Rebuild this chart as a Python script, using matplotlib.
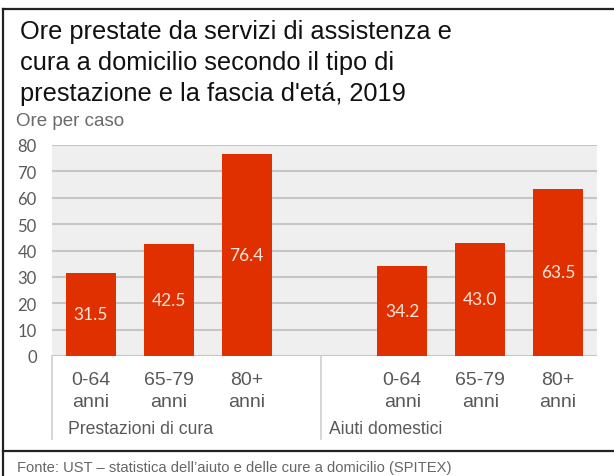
import matplotlib.pyplot as plt
from matplotlib.lines import Line2D

# data
groups = ["Prestazioni di cura", "Aiuti domestici"]
ages = ["0-64\nanni", "65-79\nanni", "80+\nanni"]
cura = [31.5, 42.5, 76.4]
domestici = [34.2, 43.0, 63.5]
yticks = [0, 10, 20, 30, 40, 50, 60, 70, 80]

W, H = 614, 477
fig = plt.figure(figsize=(W / 100, H / 100), dpi=100)
plt.rcParams['font.family'] = ['Liberation Sans', 'DejaVu Sans']

def fx(px):
    return px / W

def fy(py):
    return 1 - py / H

# plot area in pixels: x 52..597, y 146..357
ax = fig.add_axes([fx(52), fy(357), fx(597) - fx(52), fy(146) - fy(357)])
ax.set_facecolor("#efefef")

red = "#e03000"
xpos = [0, 1, 2, 4, 5, 6]
vals = cura + domestici
labels = ages + ages
bars = ax.bar(xpos, vals, width=0.64, color=red, zorder=3)
for x, v in zip(xpos, vals):
    ax.text(x, v / 2, f"{v:.1f}", ha="center", va="center", color="#fde6da",
            fontsize=12.5, family=["Lato", "DejaVu Sans"], zorder=4)

ax.set_xlim(-0.5, 6.5)
ax.set_ylim(0, 80)
ax.set_yticks(yticks)
ax.set_yticklabels([str(t) for t in yticks], color="#595959", fontsize=12,
                   family=["Lato", "DejaVu Sans"])
ax.tick_params(axis="y", length=0, pad=11)
ax.set_xticks([])
ax.grid(axis="y", color="#c6c6c6", linewidth=1.5, zorder=1)
for s in ax.spines.values():
    s.set_visible(False)

# category labels below the axis
for x, lab in zip(xpos, labels):
    ax.text(x, -5.6, lab, ha="center", va="top", fontsize=14, color="#595959",
            linespacing=1.38, clip_on=False)
fig.text(fx(68), fy(430), groups[0], ha="left", va="center", fontsize=12.7, color="#595959")
fig.text(fx(329), fy(430), groups[1], ha="left", va="center", fontsize=12.7, color="#595959")

# separators of the category axis
for px in (52, 321):
    fig.add_artist(Line2D([fx(px), fx(px)], [fy(357), fy(440)], color="#d0d0d0", linewidth=1.2))

# title and axis caption
fig.text(fx(20), fy(20), "Ore prestate da servizi di assistenza e\ncura a domicilio secondo il tipo di\nprestazione e la fascia d'etá, 2019",
         ha="left", va="top", fontsize=18.3, color="#111111", linespacing=1.36)
fig.text(fx(16), fy(122), "Ore per caso", ha="left", va="center", fontsize=13.5, color="#6a6a6a")

# footer
fig.text(fx(17), fy(468), "Fonte: UST – statistica dell’aiuto e delle cure a domicilio (SPITEX)",
         ha="left", va="center", fontsize=10.6, color="#666666")

# frame
fig.add_artist(Line2D([fx(3), 1], [fy(9.5), fy(9.5)], color="#222222", linewidth=1.6))
fig.add_artist(Line2D([fx(3), 1], [fy(452), fy(452)], color="#222222", linewidth=1.6))
fig.add_artist(Line2D([fx(3), fx(3)], [fy(9.5), 0], color="#222222", linewidth=1.6))

fig.savefig("out.png", dpi=100)
